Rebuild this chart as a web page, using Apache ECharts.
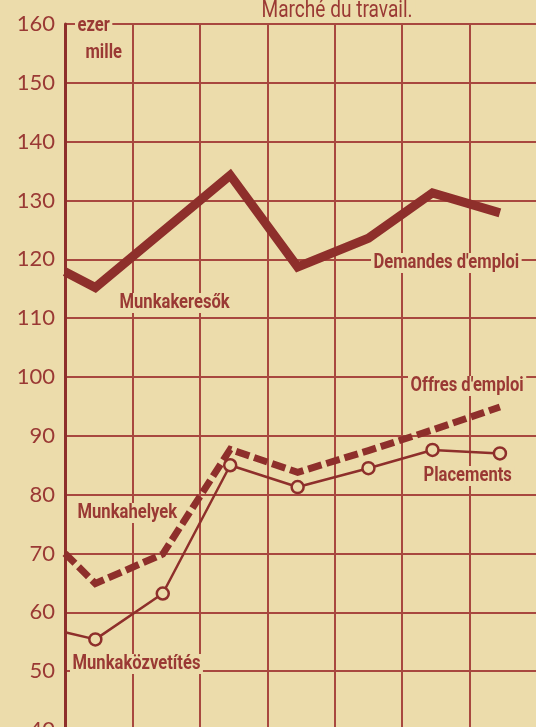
<!DOCTYPE html>
<html>
<head>
<meta charset="utf-8">
<script src="https://cdn.jsdelivr.net/npm/echarts@6/dist/echarts.min.js"></script>
<style>
  html, body { margin: 0; padding: 0; background: #ecdcab; }
  #chart { width: 536px; height: 727px; }
</style>
</head>
<body>
<div id="chart"></div>
<script>
// positions along the time axis (grid cells), points sit mid-cell
const xPos = [0, 0.45, 1.45, 2.45, 3.45, 4.5, 5.45, 6.45];
// thousands
const demandes = [117.9, 115.2, null, 134.3, 118.7, 123.6, 131.3, 127.9];
const offres = [70.0, 64.9, 69.9, 87.7, 83.8, 87.5, 91.0, 94.9];
const placements = [56.6, 55.4, 63.2, 85.0, 81.3, 84.5, 87.6, 87.0];
const yTicks = [40, 50, 60, 70, 80, 90, 100, 110, 120, 130, 140, 150, 160];

const bg = "#ecdcab";
const ink = "#8e2f2b";
const grid = "#a8483f";
const txt = "#9a3934";
const face = "Roboto, 'DejaVu Sans', sans-serif";

const pair = (vals) => xPos.map((x, i) => [x, vals[i]]).filter(p => p[1] != null);

const chart = echarts.init(document.getElementById("chart"));

// text labels sit on a beige patch so they break the grid lines like the print
// squeezed horizontally to get the narrow print face
const label = (text, x, y, size, bold) => ({
  type: "text",
  x: x,
  y: y,
  scaleX: 0.83,
  z: 100,
  style: {
    text: text,
    fill: txt,
    font: (bold ? "bold " : "") + size + "px " + face,
    backgroundColor: bg,
    padding: [0, 3]
  }
});

chart.setOption({
  backgroundColor: bg,
  animation: false,
  grid: { left: 65, top: 24, width: 472, height: 706, outerBoundsMode: "none" },
  xAxis: {
    type: "value",
    min: 0,
    max: 7,
    interval: 1,
    axisLabel: { show: false },
    axisTick: { show: false },
    axisLine: { show: false },
    splitLine: { show: true, lineStyle: { color: grid, width: 2 } }
  },
  yAxis: {
    type: "value",
    min: yTicks[0],
    max: yTicks[yTicks.length - 1],
    interval: 10,
    axisLine: { show: true, lineStyle: { color: ink, width: 3 } },
    axisTick: { show: false },
    axisLabel: {
      color: txt,
      fontSize: 22,
      fontFamily: "Lato, 'DejaVu Sans', sans-serif",
      margin: 10
    },
    splitLine: { show: true, lineStyle: { color: grid, width: 2 } }
  },
  series: [
    {
      name: "Demandes d'emploi",
      type: "line",
      data: pair(demandes),
      symbol: "none",
      lineStyle: { color: ink, width: 9, join: "miter", cap: "butt" },
      z: 5
    },
    {
      name: "Offres d'emploi",
      type: "line",
      data: pair(offres),
      symbol: "none",
      lineStyle: { color: ink, width: 7, type: [14, 5], join: "miter", cap: "butt" },
      z: 4
    },
    {
      name: "Placements",
      type: "line",
      data: pair(placements).map((p, i) => i === 0 ? { value: p, symbolSize: 0 } : p),
      symbol: "circle",
      symbolSize: 12,
      showAllSymbol: true,
      itemStyle: { color: bg, borderColor: ink, borderWidth: 2.5 },
      lineStyle: { color: ink, width: 2.5 },
      z: 6
    }
  ],
  graphic: [
    label("Marché du travail.", 259, 0, 23, false),
    label("ezer", 75, 16, 20, true),
    label("mille", 83, 43, 20, true),
    label("Munkakeresők", 117, 293, 20, true),
    label("Demandes d'emploi", 371, 253, 20, true),
    label("Offres d'emploi", 408, 376, 20, true),
    label("Placements", 421, 466, 20, true),
    label("Munkahelyek", 75, 503, 20, true),
    label("Munkaközvetítés", 70, 654, 20, true)
  ]
});
</script>
</body>
</html>
